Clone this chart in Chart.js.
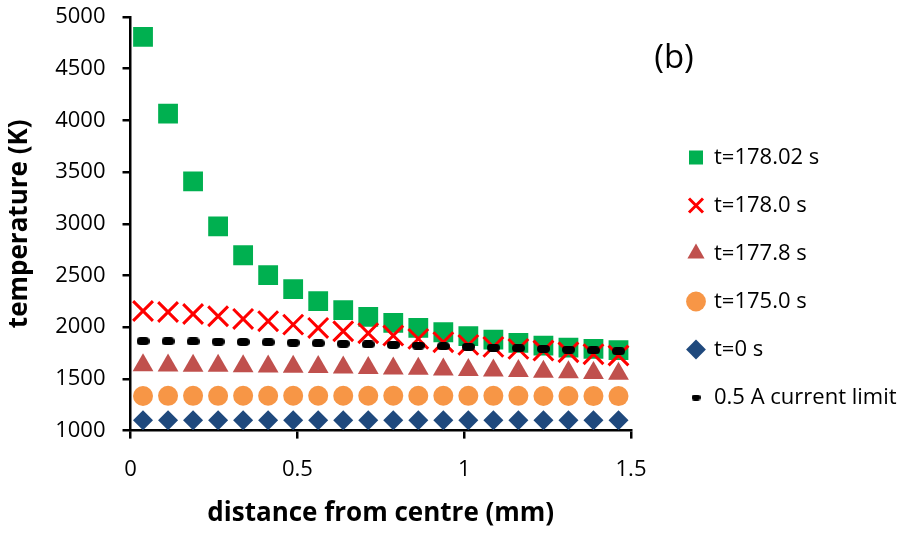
<!DOCTYPE html>
<html>
<head>
<meta charset="utf-8">
<script src="https://cdn.jsdelivr.net/npm/chart.js@4/dist/chart.umd.min.js"></script>
<style>
  html, body { margin: 0; padding: 0; background: #fff; }
  #wrap { width: 907px; height: 533px; }
</style>
</head>
<body>
<div id="wrap"><canvas id="grafico" width="907" height="533"></canvas></div>
<script>
// =======================
// Dados
// =======================
const distancia = [0.0375, 0.1125, 0.1875, 0.2625, 0.3375, 0.4125, 0.4875, 0.5625, 0.6375, 0.7125,
                   0.7875, 0.8625, 0.9375, 1.0125, 1.0875, 1.1625, 1.2375, 1.3125, 1.3875, 1.4625];

const t17802 = [4807, 4065, 3410, 2976, 2696, 2504, 2369, 2253, 2166, 2099,
                2041, 1993, 1951, 1913, 1880, 1848, 1822, 1803, 1790, 1778];
const t1780 = [2157, 2147, 2128, 2106, 2080, 2058, 2025, 1993, 1961, 1942,
               1919, 1887, 1855, 1829, 1810, 1790, 1774, 1758, 1739, 1726];
const t1778 = [1632, 1630, 1628, 1626, 1623, 1620, 1617, 1614, 1610, 1606,
               1601, 1597, 1592, 1587, 1582, 1576, 1570, 1564, 1557, 1550];
const t1750 = [1335, 1336, 1336, 1336, 1337, 1337, 1337, 1337, 1337, 1337,
               1337, 1337, 1337, 1336, 1336, 1336, 1335, 1335, 1334, 1334];
const t0 = [1100, 1100, 1100, 1100, 1100, 1100, 1100, 1100, 1100, 1100,
            1100, 1100, 1100, 1100, 1100, 1100, 1100, 1100, 1100, 1100];
const limite = [1865, 1864, 1862, 1860, 1857, 1854, 1850, 1845, 1840, 1834,
                1828, 1822, 1816, 1810, 1803, 1797, 1790, 1783, 1776, 1768];

const rotulos = ["t=178.02 s", "t=178.0 s", "t=177.8 s", "t=175.0 s", "t=0 s", "0.5 A current limit"];
const xTicks = [0, 0.5, 1, 1.5];
const yMin = 1000, yMax = 5000, yPasso = 500;

// =======================
// Ajuda
// =======================
function pontos(ys) {
  return distancia.map((x, i) => ({ x: x, y: ys[i] }));
}

// traço preto arredondado (marcador do limite)
function tracoCanvas(w, h) {
  const c = document.createElement("canvas");
  c.width = w; c.height = h;
  const g = c.getContext("2d");
  const r = h / 2;
  g.fillStyle = "#000";
  g.beginPath();
  g.moveTo(r, 0);
  g.lineTo(w - r, 0);
  g.arc(w - r, r, r, -Math.PI / 2, Math.PI / 2);
  g.lineTo(r, h);
  g.arc(r, r, r, Math.PI / 2, Math.PI * 1.5);
  g.fill();
  return c;
}
const tracoGrande = tracoCanvas(13, 8);
const tracoPequeno = tracoCanvas(9, 6);

const FONTE = "'Open Sans', 'Liberation Sans', sans-serif";

// texto "(b)"
const textoB = {
  id: "textoB",
  afterDraw(chart) {
    const ctx = chart.ctx;
    const area = chart.chartArea;
    ctx.save();
    ctx.fillStyle = "#000";
    ctx.textAlign = "center";
    ctx.textBaseline = "middle";
    ctx.font = "33px " + FONTE;
    ctx.fillText("(b)", area.right + 43, area.top + 42);
    ctx.restore();
  }
};

// empurra a legenda um pouco para a direita / para baixo
const deslocaLegenda = {
  id: "deslocaLegenda",
  afterLayout(chart) {
    const l = chart.legend;
    if (!l) return;
    l.left += 32; l.right += 32;
    l.top += 14; l.bottom += 14;
  }
};

// =======================
// Gráfico
// =======================
const ctx = document.getElementById("grafico").getContext("2d");

const grafico = new Chart(ctx, {
  type: "scatter",
  data: {
    datasets: [
      {
        label: rotulos[0], data: pontos(t17802), order: 2,
        pointStyle: "rect", pointRadius: 14, pointHoverRadius: 14,
        backgroundColor: "#00b050", borderColor: "#00b050", borderWidth: 0
      },
      {
        label: rotulos[1], data: pontos(t1780), order: 1,
        pointStyle: "crossRot", pointRadius: 14, pointHoverRadius: 14,
        backgroundColor: "#ff0000", borderColor: "#ff0000", borderWidth: 3
      },
      {
        label: rotulos[2], data: pontos(t1778), order: 3,
        pointStyle: "triangle", pointRadius: 12, pointHoverRadius: 12,
        backgroundColor: "#c0504d", borderColor: "#c0504d", borderWidth: 0
      },
      {
        label: rotulos[3], data: pontos(t1750), order: 4,
        pointStyle: "circle", pointRadius: 10, pointHoverRadius: 10,
        backgroundColor: "#f79646", borderColor: "#f79646", borderWidth: 0
      },
      {
        label: rotulos[4], data: pontos(t0), order: 5,
        pointStyle: "rectRot", pointRadius: 10, pointHoverRadius: 10,
        backgroundColor: "#1f497d", borderColor: "#1f497d", borderWidth: 0
      },
      {
        label: rotulos[5], data: pontos(limite), order: 0,
        pointStyle: tracoGrande, pointRadius: 6,
        backgroundColor: "#000", borderColor: "#000", borderWidth: 0
      }
    ]
  },
  options: {
    responsive: false,
    animation: false,
    layout: { padding: { left: 0, top: 0, right: 10, bottom: 6 } },
    plugins: {
      tooltip: { enabled: false },
      legend: {
        position: "right",
        align: "center",
        maxWidth: 320,
        labels: {
          usePointStyle: true,
          boxHeight: 14,
          boxWidth: 14,
          padding: 26,
          color: "#000",
          font: { family: FONTE, size: 22 },
          sort: (a, b) => a.datasetIndex - b.datasetIndex,
          generateLabels(chart) {
            const itens = Chart.defaults.plugins.legend.labels.generateLabels(chart);
            itens.forEach((it) => {
              if (it.datasetIndex === 5) it.pointStyle = tracoPequeno;
            });
            return itens;
          }
        }
      }
    },
    scales: {
      x: {
        type: "linear",
        min: xTicks[0],
        max: xTicks[xTicks.length - 1],
        afterBuildTicks(scale) {
          scale.ticks = xTicks.map((v) => ({ value: v }));
        },
        afterFit(scale) {
          // espaço entre a área do gráfico e a legenda
          scale.paddingRight = Math.max(scale.paddingRight, 276);
        },
        border: { display: true, color: "#000", width: 2.5 },
        grid: { display: true, drawOnChartArea: false, drawTicks: true, tickLength: 8, color: "#000", lineWidth: 2.5 },
        ticks: {
          color: "#000", padding: 18, maxRotation: 0,
          font: { family: FONTE, size: 22 },
          callback: (v) => String(v)
        },
        title: {
          display: true,
          text: "distance from centre (mm)",
          color: "#000",
          font: { family: FONTE, size: 26, weight: "bold", lineHeight: 1.0 },
          padding: { top: 0, bottom: 0 }
        }
      },
      y: {
        type: "linear",
        min: yMin,
        max: yMax,
        afterFit(scale) {
          // metade do rótulo do topo, sem o espaçamento extra
          scale.paddingTop = 17;
        },
        border: { display: true, color: "#000", width: 2.5 },
        grid: { display: true, drawOnChartArea: false, drawTicks: true, tickLength: 8, color: "#000", lineWidth: 2.5 },
        ticks: {
          stepSize: yPasso, color: "#000", padding: 17,
          font: { family: FONTE, size: 22 },
          callback: (v) => String(v)
        },
        title: {
          display: true,
          text: "temperature (K)",
          color: "#000",
          font: { family: FONTE, size: 26, weight: "bold" },
          padding: { top: 4, bottom: 3 }
        }
      }
    }
  },
  plugins: [textoB, deslocaLegenda]
});
</script>
</body>
</html>
